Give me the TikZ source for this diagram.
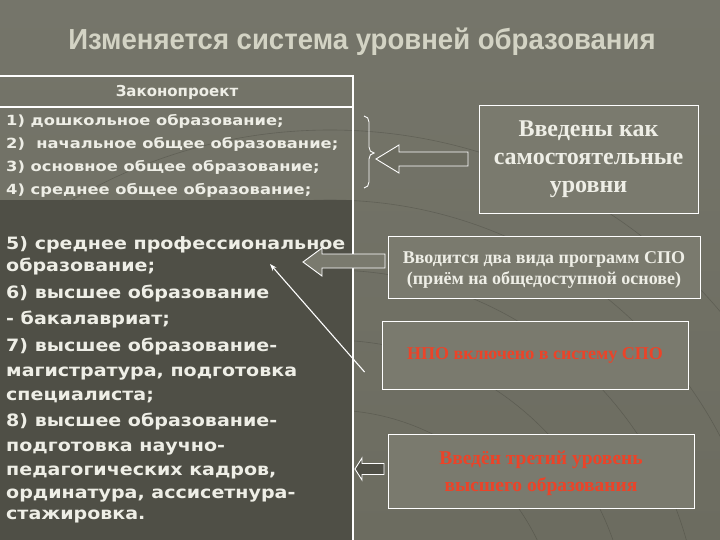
\documentclass[tikz,border=0pt]{standalone}
\usepackage{fontspec}
\setmainfont{Liberation Serif}
\newfontfamily\titlefont[FakeStretch=0.95]{Liberation Sans}
\newfontfamily\hdrfont{DejaVu Sans}
\newfontfamily\listfont[FakeStretch=1.12]{DejaVu Sans}
\newfontfamily\smallfont[FakeStretch=1.165]{DejaVu Sans}
\usetikzlibrary{arrows.meta}
\definecolor{bg}{HTML}{6C6C60}
\definecolor{bgtop}{HTML}{75756A}
\definecolor{darkcol}{HTML}{4F4F46}
\definecolor{boxfill}{HTML}{7A7A6E}
\definecolor{titlecol}{HTML}{D3D3C4}
\definecolor{txt}{HTML}{EEEEE6}
\definecolor{redtxt}{HTML}{EC4328}
\definecolor{gridline}{HTML}{3E3E36}
\tikzset{
  smalllist/.style={anchor=west, inner sep=0pt, text=txt, font=\smallfont\bfseries\fontsize{14}{16}\selectfont},
  biglist/.style={anchor=west, inner sep=0pt, text=txt, font=\listfont\bfseries\fontsize{17}{20}\selectfont},
  infobox/.style={draw=white, line width=0.9pt, fill=boxfill, inner sep=0pt},
  boxtext/.style={align=center, text=txt, font=\bfseries\fontsize{18}{21}\selectfont},
  redtext/.style={align=center, text=redtxt, font=\bfseries\fontsize{18}{25}\selectfont},
  blockarrow/.style={draw=white, line width=0.9pt, line join=miter},
  faint/.style={draw=gridline, opacity=0.35, line width=0.6pt}
}
\begin{document}
\begin{tikzpicture}[x=1pt,y=-1pt]
\useasboundingbox (0,0) rectangle (720,540);
\shade[top color=bgtop, bottom color=bg] (0,0) rectangle (720,540);
% faint background grid
\begin{scope}
\clip (0,60) rectangle (720,540);
\foreach \r in {230,300,370,440,510}
  \draw[faint] (330,640) circle (\r);
\foreach \a in {-60,-40,-20,0,20,40}
  \draw[faint] (330,640) -- ++(\a-90:-600);
\end{scope}
% left column
\fill[darkcol] (0,200) rectangle (353,540);
\draw[white, line width=1.3pt] (0,76) -- (354,76);
\draw[white, line width=1.3pt] (0,107) -- (354,107);
\draw[white, line width=1.3pt] (353,76) -- (353,540);
% title
\node[text=titlecol, font=\titlefont\bfseries\fontsize{29}{34}\selectfont] (title) at (362,42) {Изменяется система уровней образования};
% header
\node[text=txt, font=\hdrfont\bfseries\fontsize{15}{18}\selectfont] (hdr) at (177,92) {Законопроект};
% items 1-4
\node[smalllist] (i1) at (6,122) {1) дошкольное образование;\strut};
\node[smalllist] (i2) at (6,145) {2)\ \ начальное общее образование;\strut};
\node[smalllist] (i3) at (6,168) {3) основное общее образование;\strut};
\node[smalllist] (i4) at (6,191) {4) среднее общее образование;\strut};
% items 5-8
\node[biglist] (l1) at (6,245) {5) среднее профессиональное\strut};
\node[biglist] (l2) at (6,267) {образование;\strut};
\node[biglist] (l3) at (6,294) {6) высшее образование\strut};
\node[biglist] (l4) at (6,320) {- бакалавриат;\strut};
\node[biglist] (l5) at (6,347) {7) высшее образование-\strut};
\node[biglist] (l6) at (6,372) {магистратура, подготовка\strut};
\node[biglist] (l7) at (6,396) {специалиста;\strut};
\node[biglist] (l8) at (6,422) {8) высшее образование-\strut};
\node[biglist] (l9) at (6,447) {подготовка научно-\strut};
\node[biglist] (l10) at (6,471) {педагогических кадров,\strut};
\node[biglist] (l11) at (6,494) {ординатура, ассисетнура-\strut};
\node[biglist] (l12) at (6,515) {стажировка.\strut};
% right boxes
\node[infobox, minimum width=219, minimum height=108] (b1) at (588.5,159) {};
\node[boxtext, font=\bfseries\fontsize{24}{28}\selectfont] at (b1) {Введены как\\самостоятельные\\уровни};
\node[infobox, minimum width=312, minimum height=62] (b2) at (544,267) {};
\node[boxtext] at ([yshift=-3]b2.center) {Вводится два вида программ СПО\\(приём на общедоступной основе)};
\node[infobox, minimum width=306, minimum height=68] (b3) at (535,355) {};
\node[redtext] at (b3) {НПО включено в систему СПО};
\node[infobox, minimum width=306, minimum height=74] (b4) at (541,471) {};
\node[redtext, font=\bfseries\fontsize{19.5}{27}\selectfont] at ([yshift=-2]b4.center) {Введён третий уровень\\высшего образования};
% brace
\coordinate (brtip) at (374,153);
\draw[white, line width=0.9pt] (364,116) to[out=0,in=90] (369,122) -- (369,147)
   to[out=-90,in=180] (brtip) to[out=180,in=90] (369,159) -- (369,182) to[out=-90,in=0] (364,188);
% block arrow 1 (to the brace)
\coordinate (a1) at (376,159);
\filldraw[blockarrow, fill=bg] (a1) -- ++(23,-14) -- ++(0,7) -- ++(69,0) -- ++(0,14) -- ++(-69,0) -- ++(0,7) -- cycle;
% block arrow 2 (to item 5)
\coordinate (a2) at (303,262);
\filldraw[blockarrow, fill=boxfill] (a2) -- ++(19,-14) -- ++(0,6) -- ++(63,0) -- ++(0,14) -- ++(-63,0) -- ++(0,8) -- cycle;
% thin arrow from box 3
\coordinate (th) at (270,264);
\draw[white, line width=1.1pt, -{Stealth[length=7pt,width=5pt]}] ([xshift=-17,yshift=-17]b3.west) -- (th);
% block arrow 4 (to items 8)
\coordinate (a4) at (355,469);
\filldraw[blockarrow, fill=darkcol] (a4) -- ++(7,-11) -- ++(0,5.5) -- ++(22,0) -- ++(0,11) -- ++(-22,0) -- ++(0,5.5) -- cycle;
\end{tikzpicture}
\end{document}
